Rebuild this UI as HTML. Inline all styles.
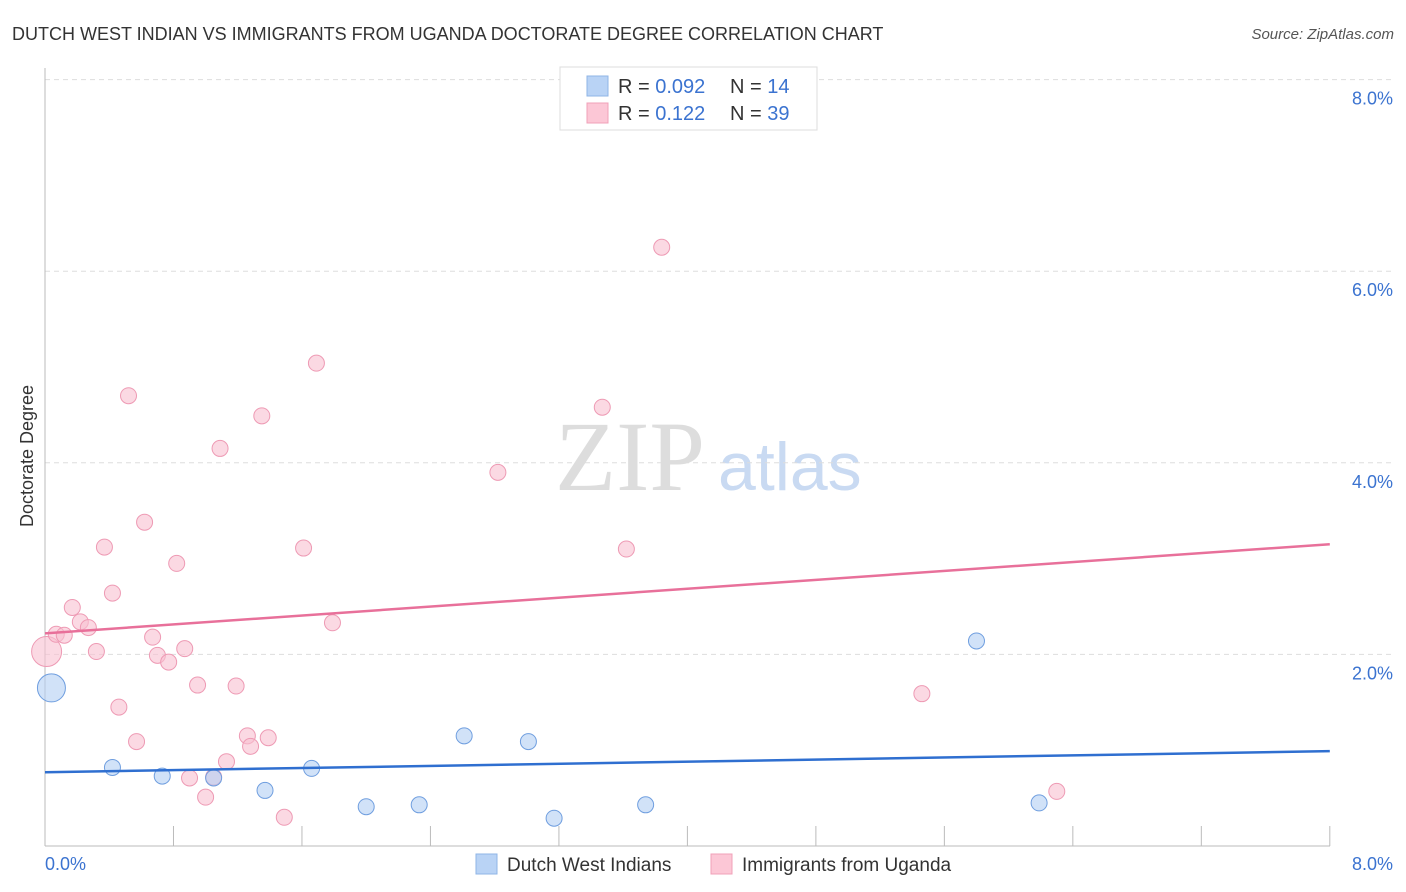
<!DOCTYPE html>
<html><head><meta charset="utf-8"><style>
body{margin:0;background:#fff;font-family:"Liberation Sans",sans-serif;}
svg{display:block}
</style></head><body>
<svg id="c" width="1406" height="892" xmlns="http://www.w3.org/2000/svg">
<text x="12" y="40" font-size="18" fill="#333">DUTCH WEST INDIAN VS IMMIGRANTS FROM UGANDA DOCTORATE DEGREE CORRELATION CHART</text>
<text x="1394" y="39" font-size="15" fill="#555" font-style="italic" text-anchor="end">Source: ZipAtlas.com</text>
<text x="33" y="456" font-size="18" fill="#333" text-anchor="middle" transform="rotate(-90 33 456)">Doctorate Degree</text>
<text x="555" y="490" font-size="100" fill="#ddd" font-family="Liberation Serif,serif">ZIP</text>
<text x="718" y="490" font-size="68" fill="#c9daf2">atlas</text>
<g id="grid"></g><g id="marks"></g>
<g>
<rect x="560" y="67" width="257" height="63" fill="#fff" stroke="#ddd"/>
<rect x="587" y="76" width="21" height="20" fill="#b9d3f5" stroke="#8fb4e6"/>
<rect x="587" y="103" width="21" height="20" fill="#fcc7d6" stroke="#f0a0b8"/>
<text x="618" y="93" font-size="20" fill="#333">R = <tspan fill="#3b73d0">0.092</tspan></text>
<text x="730" y="93" font-size="20" fill="#333">N = <tspan fill="#3b73d0"> 14</tspan></text>
<text x="618" y="120" font-size="20" fill="#333">R = <tspan fill="#3b73d0"> 0.122</tspan></text>
<text x="730" y="120" font-size="20" fill="#333">N = <tspan fill="#3b73d0">39</tspan></text>
</g>
<g>
<rect x="476" y="854" width="21" height="20" fill="#b9d3f5" stroke="#8fb4e6"/>
<text x="507" y="871" font-size="19" fill="#333">Dutch West Indians</text>
<rect x="711" y="854" width="21" height="20" fill="#fcc7d6" stroke="#f0a0b8"/>
<text x="742" y="871" font-size="19" fill="#333">Immigrants from Uganda</text>
</g>
</svg>
<script>
const blueX=[0.04,0.42,0.73,1.05,1.37,1.66,2.00,2.33,2.61,3.01,3.17,3.74,5.80,6.19];
const blueY=[1.65,0.82,0.73,0.71,0.58,0.81,0.41,0.43,1.15,1.09,0.29,0.43,2.14,0.45];
const pinkX=[0.01,0.07,0.12,0.17,0.22,0.27,0.32,0.37,0.42,0.46,0.52,0.57,0.62,0.67,0.70,0.77,0.82,0.87,0.90,0.95,1.00,1.05,1.09,1.13,1.19,1.26,1.28,1.35,1.39,1.49,1.61,1.69,1.79,2.82,3.47,3.62,3.84,5.46,6.30];
const pinkY=[2.03,2.21,2.20,2.49,2.34,2.28,2.03,3.12,2.64,1.45,4.70,1.09,3.38,2.18,1.99,1.92,2.95,2.06,0.71,1.68,0.51,0.72,4.15,0.88,1.67,1.15,1.04,4.49,1.13,0.30,3.11,5.04,2.33,3.90,4.58,3.10,6.25,1.59,0.57];
const blueTrend=[0.77,0.99];
const pinkTrend=[2.22,3.15];
const yTicks=[2,4,6,8];
const yTickLabels=["2.0%","4.0%","6.0%","8.0%"];
const xTickLabels=["0.0%","8.0%"];
const NS="http://www.w3.org/2000/svg";
const X=v=>45+v*160.6, Y=v=>846-v*95.8;
function mk(t,a,p){const e=document.createElementNS(NS,t);for(const k in a)e.setAttribute(k,a[k]);p.appendChild(e);return e;}
const g=document.getElementById('grid'),m=document.getElementById('marks');
yTicks.forEach((t,i)=>{
 const l=mk('line',{x1:45,x2:1393,y1:Y(t),y2:Y(t),stroke:'#ddd','stroke-dasharray':'5,4'},g);
 
 
 const tx=mk('text',{x:1393,y:Y(t)+25,'font-size':18,fill:'#3b73d0','text-anchor':'end'},g);
 tx.textContent=yTickLabels[i];
 
 
});
const ax=mk('line',{x1:45,x2:45,y1:68,y2:846,stroke:'#bbb'},g);


const bx=mk('line',{x1:45,x2:1330,y1:846,y2:846,stroke:'#bbb'},g);


for(let i=0;i<=10;i++){const t=mk('line',{x1:X(i*0.8),x2:X(i*0.8),y1:826,y2:846,stroke:'#bbb'},g);
 
 }
[[0,'start',45],[8,'end',1393]].forEach((d,i)=>{const t=mk('text',{x:d[2],y:870,'font-size':18,fill:'#3b73d0','text-anchor':d[1]},g);t.textContent=xTickLabels[i];
 
 });
function pts(xs,ys,fill,stroke,name,big){xs.forEach((x,i)=>{const c=mk('circle',{cx:X(x),cy:Y(ys[i]),r:i===0?big:8,fill:fill,stroke:stroke,'fill-opacity':0.6},m);
 
 });}
pts(pinkX,pinkY,'#f9bfd0','#ee9ab4','point-uganda',15);
pts(blueX,blueY,'#b3cff3','#6f9edf','point-dutch-west-indian',14);
const pl=mk('line',{x1:X(0),x2:X(8),y1:Y(pinkTrend[0]),y2:Y(pinkTrend[1]),stroke:'#e8709a','stroke-width':2.5},m);


const bl=mk('line',{x1:X(0),x2:X(8),y1:Y(blueTrend[0]),y2:Y(blueTrend[1]),stroke:'#2f6fd0','stroke-width':2.5},m);


</script>
</body></html>
